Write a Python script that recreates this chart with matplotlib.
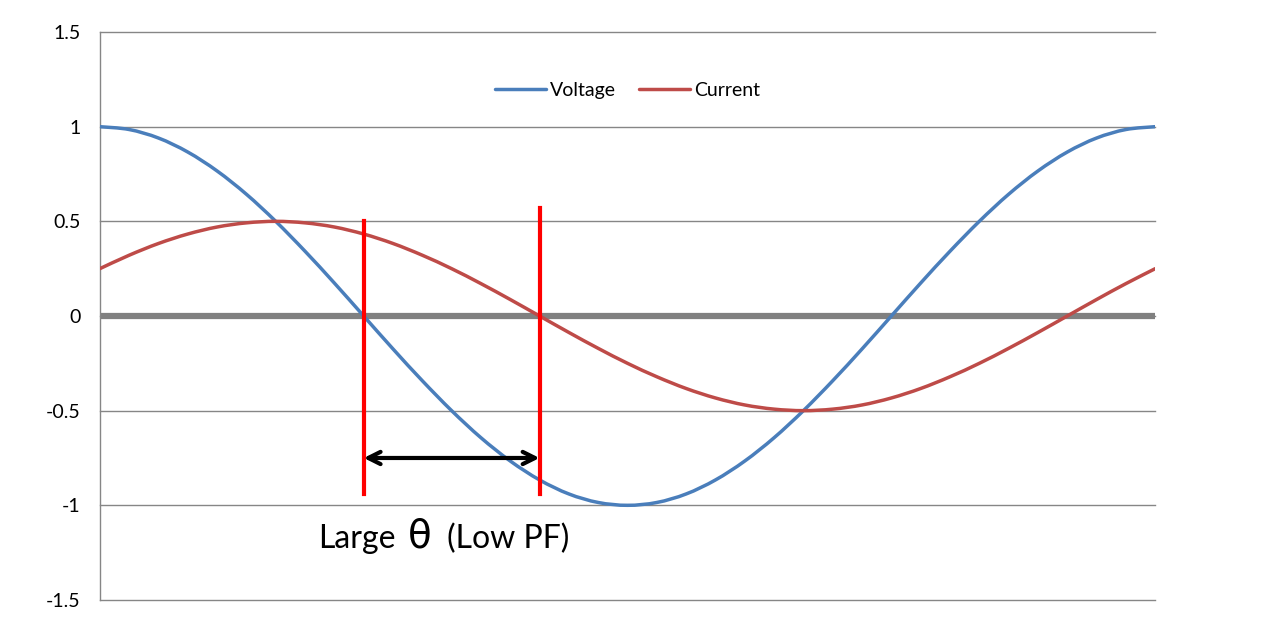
import numpy as np
import matplotlib.pyplot as plt
from matplotlib.path import Path
from matplotlib.patches import PathPatch
from matplotlib.lines import Line2D

# angle in degrees, one full cycle across the chart
angle = list(range(0, 361, 10))
voltage = [1.0, 0.985, 0.94, 0.866, 0.766, 0.643, 0.5, 0.342, 0.174, 0.0,
           -0.174, -0.342, -0.5, -0.643, -0.766, -0.866, -0.94, -0.985, -1.0,
           -0.985, -0.94, -0.866, -0.766, -0.643, -0.5, -0.342, -0.174, 0.0,
           0.174, 0.342, 0.5, 0.643, 0.766, 0.866, 0.94, 0.985, 1.0]
current = [0.25, 0.321, 0.383, 0.433, 0.47, 0.492, 0.5, 0.492, 0.47, 0.433,
           0.383, 0.321, 0.25, 0.171, 0.087, 0.0, -0.087, -0.171, -0.25,
           -0.321, -0.383, -0.433, -0.47, -0.492, -0.5, -0.492, -0.47, -0.433,
           -0.383, -0.321, -0.25, -0.171, -0.087, 0.0, 0.087, 0.171, 0.25]

yticks = [-1.5, -1, -0.5, 0, 0.5, 1, 1.5]
ytick_labels = ['-1.5', '-1', '-0.5', '0', '0.5', '1', '1.5']

# phase markers (zero crossings) and their vertical extents
marker_x = [90, 150]
marker_top = [0.5, 0.57]
marker_bottom = -0.94
arrow_y = -0.75


def smooth_path(xs, ys):
    # Excel-style smoothed line: cubic bezier through every point
    pts = np.column_stack([xs, ys]).astype(float)
    n = len(pts)
    verts = [pts[0]]
    codes = [Path.MOVETO]
    for i in range(n - 1):
        p0 = pts[max(i - 1, 0)]
        p1 = pts[i]
        p2 = pts[i + 1]
        p3 = pts[min(i + 2, n - 1)]
        verts += [p1 + (p2 - p0) / 6, p2 - (p3 - p1) / 6, p2]
        codes += [Path.CURVE4] * 3
    return Path(verts, codes)


plt.rcParams['font.family'] = ['Lato', 'DejaVu Sans']

fig = plt.figure(figsize=(12.8, 6.17), dpi=100)
ax = fig.add_axes([0.078, 0.0276, 0.8245, 0.9205])

grid_col = '#868686'
for y in yticks:
    ax.axhline(y, color=grid_col, lw=1, zorder=1, clip_on=False)
ax.axhline(0, color='#808080', lw=4.5, zorder=2)

series = [('Voltage', voltage, '#4A7EBB'), ('Current', current, '#BE4B48')]
handles = []
for name, vals, col in series:
    ax.add_patch(PathPatch(smooth_path(angle, vals), fill=False, edgecolor=col,
                           lw=2.5, capstyle='round', zorder=3))
    handles.append(Line2D([], [], color=col, lw=2.5, solid_capstyle='round',
                          label=name))

for x, top in zip(marker_x, marker_top):
    ax.plot([x, x], [marker_bottom, top], color='#FF0000', lw=3, zorder=4)

ax.annotate('', xy=(marker_x[0], arrow_y), xytext=(marker_x[1], arrow_y),
            arrowprops=dict(arrowstyle='<->', color='black', lw=3,
                            mutation_scale=22, shrinkA=0, shrinkB=0),
            zorder=5)

ax.text(74.4, -1.225, 'Large', fontsize=23, va='baseline', ha='left')
ax.text(105.1, -1.225, 'θ', fontsize=28, va='baseline', ha='left',
        family=['DejaVu Sans'])
ax.text(118.4, -1.225, '(Low PF)', fontsize=23, va='baseline', ha='left')

ax.set_xlim(0, 360)
ax.set_ylim(-1.5, 1.5)
ax.set_yticks(yticks)
ax.set_yticklabels(ytick_labels, fontsize=14)
ax.set_xticks([])
ax.tick_params(axis='y', length=0, pad=14)
for side in ['top', 'right', 'bottom']:
    ax.spines[side].set_visible(False)
ax.spines['left'].set_color(grid_col)
ax.spines['left'].set_linewidth(1)

ax.legend(handles=handles, loc='center', bbox_to_anchor=(0.5, 0.897), ncol=2,
          frameon=False, fontsize=14, handlelength=2.6, handletextpad=0.2,
          columnspacing=1.2)

fig.savefig('out.png', dpi=100)
